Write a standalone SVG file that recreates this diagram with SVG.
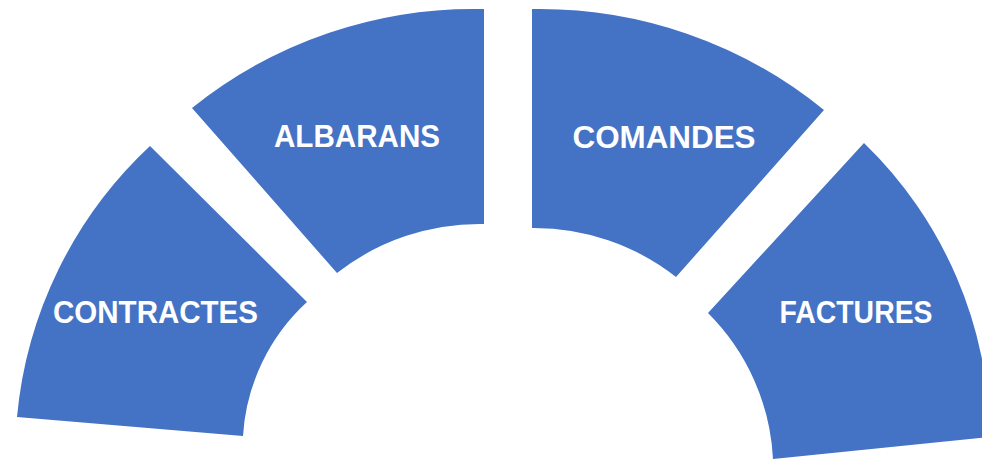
<svg xmlns="http://www.w3.org/2000/svg" width="982" height="462" viewBox="0 0 982 462">
<style>
.seg{fill:#4472C4;stroke:none}
.lbl{fill:#ffffff;font-family:"Liberation Sans",Arial,sans-serif;font-weight:bold;font-size:32px;text-anchor:middle}
</style>
<rect x="0" y="0" width="982" height="462" fill="#ffffff"/>
<g id="contractes">
<path class="seg" d="M150,146 L307,302 A198,198 0 0 0 243,436 L17,417 A424,424 0 0 1 150,146 Z"/>
<text class="lbl" x="155.5" y="323" textLength="205" lengthAdjust="spacingAndGlyphs">CONTRACTES</text>
</g>
<g id="albarans">
<path class="seg" d="M192,108 A450,450 0 0 1 484,9 L484,224 A232,232 0 0 0 337,273 Z"/>
<text class="lbl" x="357" y="147" textLength="166" lengthAdjust="spacingAndGlyphs">ALBARANS</text>
</g>
<g id="comandes">
<path class="seg" d="M532,9 A450,450 0 0 1 824,110 L676,277 A230,230 0 0 0 532,228 Z"/>
<text class="lbl" x="664" y="148" textLength="183" lengthAdjust="spacingAndGlyphs">COMANDES</text>
</g>
<g id="factures">
<path class="seg" d="M864,143 A413,413 0 0 1 990,437 L773,459 A222,222 0 0 0 708,313 Z"/>
<text class="lbl" x="856" y="323" textLength="153" lengthAdjust="spacingAndGlyphs">FACTURES</text>
</g>
<g id="connectors"></g>
</svg>
